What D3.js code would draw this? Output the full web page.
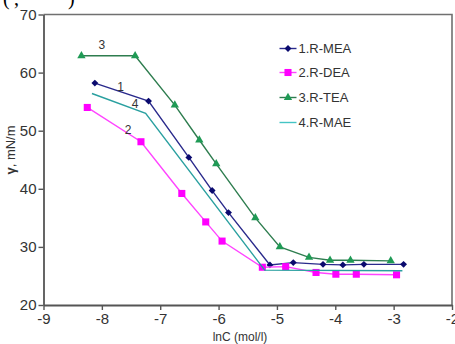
<!DOCTYPE html>
<html>
<head>
<meta charset="utf-8">
<script src="https://cdn.jsdelivr.net/npm/d3@7"></script>
<style>
  body { margin: 0; background: #fff; }
  svg { font-family: Arial, "Liberation Sans", sans-serif; }
</style>
</head>
<body>
<svg id="chart" width="455" height="344"></svg>
<script>
// surface tension vs lnC for four amine solutions
const seriesNames = ["1.R-MEA", "2.R-DEA", "3.R-TEA", "4.R-MAE"];
const meaX = [-8.12, -7.20, -6.51, -6.11, -5.83, -5.12, -4.72, -4.21, -3.87, -3.51, -2.83];
const meaY = [58.2, 55.1, 45.4, 39.7, 35.9, 26.9, 27.3, 27.0, 26.9, 27.0, 27.0];
const deaX = [-8.25, -7.33, -6.63, -6.22, -5.94, -5.25, -4.85, -4.33, -3.99, -3.64, -2.95];
const deaY = [54.0, 48.1, 39.2, 34.3, 31.0, 26.5, 26.6, 25.6, 25.3, 25.3, 25.2];
const teaX = [-8.35, -7.43, -6.75, -6.33, -6.04, -5.37, -4.95, -4.45, -4.09, -3.74, -3.05];
const teaY = [62.9, 62.9, 54.4, 48.4, 44.3, 35.0, 30.0, 28.2, 27.7, 27.7, 27.6];
const maeX = [-8.17, -7.25, -5.21, -2.85];
const maeY = [56.4, 53.0, 26.0, 25.9];
const xTicks = [-9, -8, -7, -6, -5, -4, -3, -2];
const yTicks = [20, 30, 40, 50, 60, 70];

const svg = d3.select("#chart");
const margin = { left: 43.5, right: 3, top: 14.5, bottom: 39 };
const width = 455 - margin.left - margin.right;
const height = 344 - margin.top - margin.bottom;

const x = d3.scaleLinear().domain([-9, -2]).range([0, width]);
const y = d3.scaleLinear().domain([20, 70]).range([height, 0]);

const g = svg.append("g").attr("transform", `translate(${margin.left},${margin.top})`);

// cut-off caption at very top
const cap = svg.append("g").style("font-family", "'Liberation Serif', serif").style("font-size", "20px");
cap.append("text").attr("x", 3).attr("y", 5).text("(");
cap.append("text").attr("x", 14).attr("y", 5).text(",");
cap.append("text").attr("x", 68).attr("y", 5).text(")");

// frame top/right
g.append("path")
  .attr("d", `M0,0H${width}V${height}`)
  .attr("fill", "none").attr("stroke", "#707070").attr("stroke-width", 1.6);

const fmt = d => String(d);
const xAxis = g.append("g").attr("transform", `translate(0,${height})`)
  .call(d3.axisBottom(x).tickValues(xTicks).tickFormat(fmt).tickSize(5).tickSizeOuter(0).tickPadding(3));
const yAxis = g.append("g")
  .call(d3.axisLeft(y).tickValues(yTicks).tickFormat(fmt).tickSize(5).tickSizeOuter(0).tickPadding(2));

[xAxis, yAxis].forEach(a => {
  a.select(".domain").attr("stroke", "#555").attr("stroke-width", 1.8);
  a.selectAll(".tick line").attr("stroke", "#555").attr("stroke-width", 1.4);
  a.selectAll(".tick text").attr("fill", "#333").style("font-size", "15px")
    .style("font-family", "Arial, 'Liberation Sans', sans-serif");
});

svg.append("text")
  .attr("x", 240).attr("y", 341)
  .attr("text-anchor", "middle").attr("fill", "#333").style("font-size", "12px")
  .text("lnC (mol/l)");

svg.append("text")
  .attr("transform", "translate(15,150) rotate(-90)")
  .attr("text-anchor", "middle").attr("fill", "#333").style("font-size", "13px")
  .html("<tspan font-weight='bold'>γ</tspan>, mN/m");

const series = [
  { name: seriesNames[0], xs: meaX, ys: meaY, line: "#2a2a8c", fill: "#0a0a6e", marker: "diamond" },
  { name: seriesNames[1], xs: deaX, ys: deaY, line: "#ff44ff", fill: "#ff00ff", marker: "square" },
  { name: seriesNames[2], xs: teaX, ys: teaY, line: "#2e7d4f", fill: "#1f9a55", marker: "triangle" },
  { name: seriesNames[3], xs: maeX, ys: maeY, line: "#2aa0a0", fill: "#2aa0a0", marker: null }
];

const sym = {
  diamond: d3.symbol().type(d3.symbolDiamond2).size(30),
  square: d3.symbol().type(d3.symbolSquare).size(50),
  triangle: d3.symbol().type(d3.symbolTriangle).size(30)
};

const line = d3.line().x(d => x(d[0])).y(d => y(d[1]));

series.forEach(s => {
  const pts = s.xs.map((v, i) => [v, s.ys[i]]);
  g.append("path").datum(pts)
    .attr("d", line).attr("fill", "none")
    .attr("stroke", s.line).attr("stroke-width", 1.4);
  if (s.marker) {
    g.selectAll(null).data(pts).enter().append("path")
      .attr("d", sym[s.marker])
      .attr("transform", d => `translate(${x(d[0])},${y(d[1])})`)
      .attr("fill", s.fill);
  }
});

// curve numbers
const labelX = [-7.68, -7.43, -7.55, -8.0];
const labelY = [56.8, 53.9, 49.4, 64.0];
["1", "4", "2", "3"].forEach((t, i) => {
  g.append("text").attr("x", x(labelX[i])).attr("y", y(labelY[i]))
    .attr("text-anchor", "middle").attr("fill", "#333").style("font-size", "12px").text(t);
});

// legend
const legend = g.append("g").attr("transform", "translate(236,34)");
const legendY = [0, 24, 49, 74];
series.forEach((s, i) => {
  const row = legend.append("g").attr("transform", `translate(0,${legendY[i]})`);
  row.append("line").attr("x1", 0).attr("x2", 17)
    .attr("stroke", i === 3 ? "#44c4c4" : s.line).attr("stroke-width", 1.4);
  if (s.marker) {
    row.append("path").attr("d", sym[s.marker]).attr("transform", "translate(8.5,0)").attr("fill", s.fill);
  }
  row.append("text").attr("x", 19).attr("y", 4.5).attr("fill", "#333")
    .style("font-size", "13px").text(s.name);
});
</script>
</body>
</html>
